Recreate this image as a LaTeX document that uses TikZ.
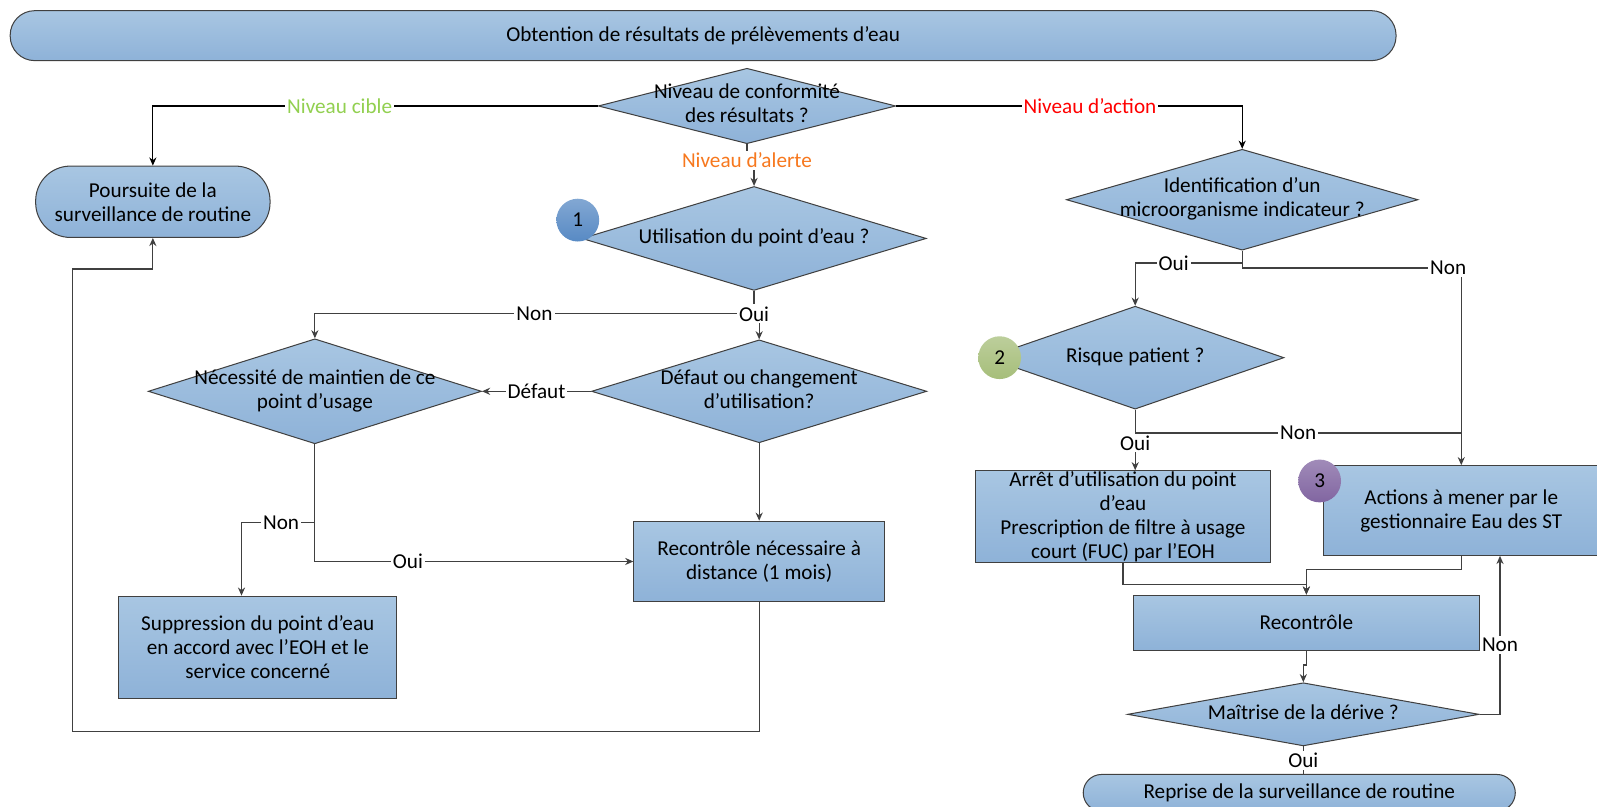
\documentclass[tikz,border=0pt]{standalone}
\usepackage{fontspec}
\setmainfont{Carlito}
\usepackage{xcolor}
\usepackage{tikz}
\usetikzlibrary{shapes.geometric,arrows.meta}

\definecolor{boxtop}{RGB}{168,198,226}
\definecolor{boxbot}{RGB}{142,178,216}
\definecolor{edgegray}{RGB}{64,64,64}
\definecolor{cibleC}{RGB}{146,208,80}
\definecolor{actionC}{RGB}{255,0,0}
\definecolor{alerteC}{RGB}{247,120,30}
\definecolor{oneC}{RGB}{88,138,196}
\definecolor{twoC}{RGB}{166,190,122}
\definecolor{threeC}{RGB}{129,101,161}

\newcommand{\dlines}[1]{\makebox[0pt]{\begin{tabular}{@{}c@{}}#1\end{tabular}}}

\begin{document}
\begin{tikzpicture}[x=0.5pt, y=-0.5pt,
	font=\fontsize{10.4}{11.8}\selectfont,
	shadebox/.style={draw=edgegray, line width=0.5pt, top color=boxtop, bottom color=boxbot},
	procbox/.style={shadebox, rectangle, inner sep=0pt, align=center},
	termbox/.style={shadebox, rectangle, rounded corners=#1, inner sep=0pt, align=center},
	decision/.style={shadebox, diamond, inner sep=0pt, aspect=1},
	badge/.style={circle, minimum size=21pt, inner sep=0pt, top color=#1!75!white, bottom color=#1},
	flow/.style={draw=edgegray, line width=0.6pt},
	arr/.style={flow, -{Stealth[length=4pt, width=3.5pt]}},
	lbl/.style={fill=white, inner sep=1pt, text=black}]
	\useasboundingbox (0,0) rectangle (1567.2,791);
	% boxes
	\node[termbox=12pt, minimum width=680pt, minimum height=24.5pt] at (690,35)(titre){Obtention de résultats de prélèvements d’eau};
	\node[decision, minimum width=146pt, minimum height=37pt] at (733,104)(conf){\dlines{Niveau de conformité\\des résultats ?}};
	\node[termbox=17pt, minimum width=115pt, minimum height=35pt] at (150,198)(routine){Poursuite de la\\surveillance de routine};
	\node[decision, minimum width=169pt, minimum height=51pt] at (740,234)(usage){\dlines{Utilisation du point d’eau ?}};
	\node[decision, minimum width=172.5pt, minimum height=49.5pt] at (1219,196)(ident){\dlines{Identification d’un\\microorganisme indicateur ?}};
	\node[decision, minimum width=163.5pt, minimum height=51.5pt] at (309,384)(maintien){\dlines{Nécessité de maintien de ce\\point d’usage}};
	\node[decision, minimum width=164.5pt, minimum height=50.5pt] at (745,384)(defaut){\dlines{Défaut ou changement\\d’utilisation?}};
	\node[decision, minimum width=146pt, minimum height=50.5pt] at (1114,351)(risque){\dlines{Risque patient ?}};
	\node[procbox, minimum width=136.5pt, minimum height=50pt] at (253,635)(suppr){Suppression du point d’eau\\en accord avec l’EOH et le\\service concerné};
	\node[procbox, minimum width=123pt, minimum height=39.5pt] at (745,551)(recdist){Recontrôle nécessaire à\\distance (1 mois)};
	\node[procbox, minimum width=144.5pt, minimum height=45pt] at (1102,507)(arret){Arrêt d’utilisation du point\\d’eau\\Prescription de filtre à usage\\court (FUC) par l’EOH};
	\node[procbox, minimum width=135.5pt, minimum height=44pt] at (1434,501)(actions){Actions à mener par le\\gestionnaire Eau des ST};
	\node[procbox, minimum width=170pt, minimum height=27pt] at (1282,611)(recontrole){Recontrôle};
	\node[decision, minimum width=172.5pt, minimum height=31pt] at (1279,701)(maitrise){\dlines{Maîtrise de la dérive ?}};
	\node[termbox=9pt, minimum width=212pt, minimum height=18pt] at (1275,778)(reprise){Reprise de la surveillance de routine};
	% numbered badges
	\node[badge=oneC] at (567,216)(b1){1};
	\node[badge=twoC] at (981,351)(b2){2};
	\node[badge=threeC] at (1295,472)(b3){3};
	% top level
	\draw[arr, draw=black] (conf.west) -| node[lbl, pos=0.29, text=cibleC](l1){Niveau cible} (routine.north);
	\draw[arr, draw=black] (conf.east) -| node[lbl, pos=0.28, text=actionC](l2){Niveau d’action} (ident.north);
	\draw[arr] (conf.south) -- ++(0,16) node[lbl, text=alerteC](l3){Niveau d’alerte} -| (usage.north);
	% left branch
	\coordinate (j1) at (740,308);
	\draw[flow] (usage.south) -- (j1);
	\draw[arr] (j1) -| (defaut.north);
	\draw[arr] (j1) -| node[lbl, pos=0.25](l4){Non} (maintien.north);
	\node[lbl] at (j1)(l5){Oui};
	\draw[arr] (defaut.west) -- node[lbl](l6){Défaut} (maintien.east);
	\draw[arr] (defaut.south) -- (recdist.north);
	\coordinate (j2) at (309,513);
	\draw[flow] (maintien.south) -- (j2);
	\draw[arr] (j2) -| node[lbl, pos=0.23](l7){Non} ([xshift=-8pt]suppr.north);
	\draw[arr] (j2) |- node[lbl, pos=0.646](l8){Oui} (recdist.west);
	\coordinate (r1) at (71,718);
	\coordinate (r2) at (71,264);
	\draw[arr] (recdist.south) |- (r1) -- (r2) -| (routine.south);
	% right branch
	\coordinate (j3) at (1219,258);
	\coordinate (j4) at (1219,263);
	\draw[flow] (ident.south) -- (j4);
	\draw[arr] (j3) -| node[lbl, pos=0.32](l9){Oui} (risque.north);
	\draw[arr] (j4) -| node[lbl, pos=0.47](l10){Non} (actions.north);
	\coordinate (j5) at (1114,425);
	\coordinate (j6) at (actions.north |- j5);
	\draw[arr] (risque.south) -- node[lbl, pos=0.55](l11){Oui} (risque.south |- arret.north);
	\draw[flow] (j5) -- node[lbl](l12){Non} (j6);
	\draw[arr] (arret.south) -- ++(0,21) -| (recontrole.north);
	\draw[arr] (actions.south) -- ++(0,13) -| (recontrole.north);
	\draw[arr] (recontrole.south) -- ++(0,14) -| (maitrise.north);
	\draw[arr] (maitrise.east) -| node[lbl, pos=0.72](l13){Non} ([xshift=19pt]actions.south);
	\draw[flow] (maitrise.south) -- node[lbl](l14){Oui} (maitrise.south |- reprise.north);
\end{tikzpicture}
\end{document}
